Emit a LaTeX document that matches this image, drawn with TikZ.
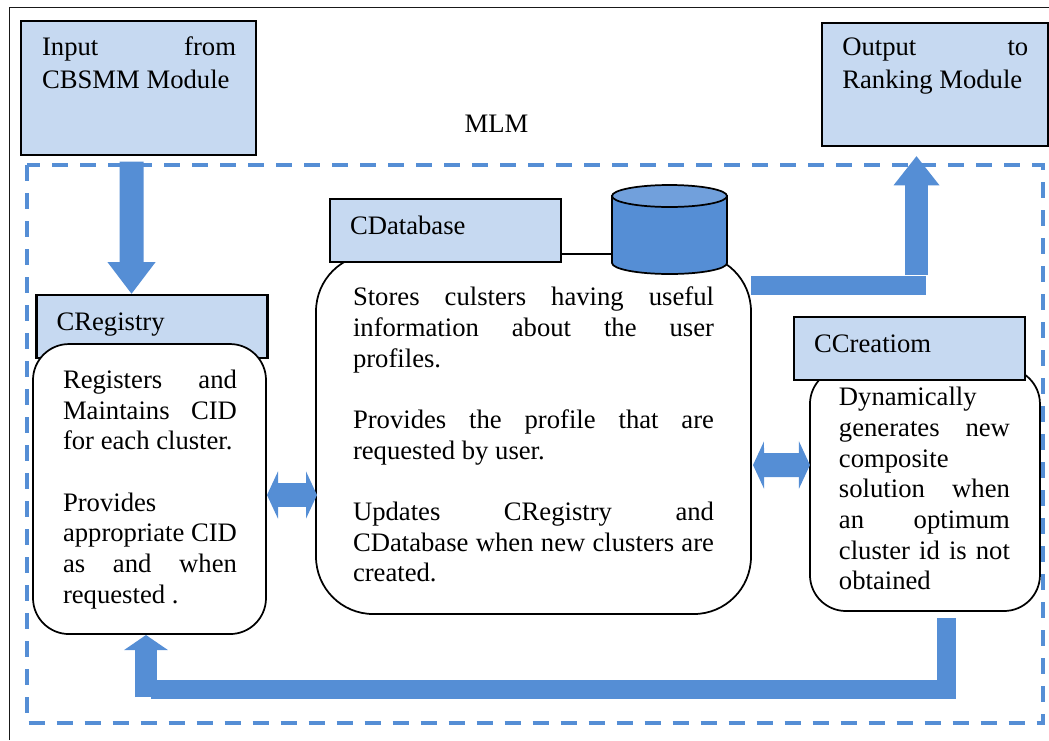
\documentclass[tikz,border=0pt]{standalone}
\usepackage{fontspec}
\setmainfont{Liberation Serif}
\usetikzlibrary{arrows.meta}
\definecolor{boxblue}{HTML}{C6D9F1}
\definecolor{flowblue}{HTML}{558ED5}
\definecolor{capblue}{HTML}{71A0DC}
\newcommand{\jl}[1]{\makebox[\hsize][s]{#1}}
\begin{document}
\begin{tikzpicture}[
  x=0.75pt, y=-0.75pt,
  every node/.style={font=\fontsize{20}{23}\selectfont, outer sep=0pt},
  head/.style={rectangle, draw=black, fill=boxblue, line width=1.6pt, minimum width=173.25pt, minimum height=47.25pt, inner xsep=15pt, text width=143.25pt, text height=13pt, text depth=7pt, align=flush left},
  port/.style={rectangle, draw=black, fill=boxblue, line width=1.6pt},
  card/.style={rectangle, rounded corners=27pt, draw=black, fill=white, line width=1.3pt},
  body/.style={anchor=north west, inner sep=0pt, align=flush left, execute at begin node=\strut},
  flow/.style={draw=flowblue, line width=#1},
  flow/.default=14.25pt,
  node distance=100pt
]
\useasboundingbox (0,0) rectangle (1049,740);

% Frames
\draw[line width=1.2pt, draw=black!90] (9.5,740) -- (9.5,7.5) -- (1049,7.5);
\draw[draw=flowblue, line width=3pt, dash pattern=on 12pt off 9pt] (26.5,165) rectangle (1043,723);
\node (title) at (496.5,124) {MLM};

% Ports
\node[port, minimum width=176pt, minimum height=100.5pt] (input) at (138.7,87.7) {};
\node[port, right of=input, node distance=597pt, yshift=2.4pt, minimum width=169.5pt, minimum height=92.25pt] (output) {};

% Modules
\node[head, below of=input, node distance=179.1pt, xshift=10pt] (reghead) {CRegistry};
\node[card, below of=reghead, node distance=121.9pt, xshift=-1.9pt, minimum width=174.75pt, minimum height=217.5pt] (regcard) {};
\node[card, right of=regcard, node distance=288pt, yshift=41.25pt, rounded corners=43pt, minimum width=326.25pt, minimum height=270pt] (dbcard) {};
\node[head, above of=dbcard, node distance=152.6pt, xshift=-66pt] (dbhead) {CDatabase};
\node[card, right of=dbcard, node distance=293.6pt, yshift=-41.6pt, minimum width=172.5pt, minimum height=182.25pt] (crcard) {};
\node[head, above of=crcard, node distance=105.75pt, xshift=-11.5pt] (crhead) {CCreatiom};

% Store
\coordinate (store) at (669.5,196);
\filldraw[draw=black, fill=flowblue, line width=1.3pt] ([xshift=-43.1pt]store) -- ++(0,67) arc[start angle=180, end angle=0, x radius=57.5, y radius=11] -- ++(0,-67) -- cycle;
\filldraw[draw=black, fill=capblue, line width=1.3pt] (store) ellipse[x radius=57.5, y radius=11];

% Texts
\node[body, font=\fontsize{20}{24.75}\selectfont, text width=145.5pt] (inputtext) at ([shift={(20.7,11.2)}]input.north west) {\jl{Input from}\\CBSMM Module};
\node[body, font=\fontsize{20}{24.75}\selectfont, text width=139.5pt] (outputtext) at ([shift={(20.6,8.9)}]output.north west) {\jl{Output to}\\Ranking Module};
\node[body, text width=130.5pt] (regtext) at ([shift={(30,22.9)}]regcard.north west) {\jl{Registers and}\\\jl{Maintains CID}\\for each cluster.\\[23pt]Provides\\\jl{appropriate CID}\\\jl{as and when}\\requested .};
\node[body, text width=270.75pt] (dbtext) at ([shift={(37,30.2)}]dbcard.north west) {\jl{Stores culsters having useful}\\\jl{information about the user}\\profiles.\\[23pt]\jl{Provides the profile that are}\\requested by user.\\[23pt]\jl{Updates CRegistry and}\\\jl{CDatabase when new clusters are}\\created.};
\node[body, text width=128.25pt] (crtext) at ([shift={(29,16.3)}]crcard.north west) {Dynamically\\\jl{generates new}\\composite\\\jl{solution when}\\\jl{an optimum}\\\jl{cluster id is not}\\obtained};

% Free ends of the bars
\coordinate (outstart) at (751,285.5);
\coordinate (outend) at (926,285.5);
\coordinate (outfoot) at (916.5,275);
\coordinate (outtip) at (916.5,156);
\coordinate (backstart) at (946.5,618);
\coordinate (backturn) at (946.5,689.5);
\coordinate (backend) at (151,689.5);
\coordinate (backfoot) at (146,697);
\coordinate (backtip) at (146,635);

% Arrows
\draw[flow=18pt, -{Triangle[width=34.5pt,length=24pt]}] ([shift={(-7.2,7)}]input.south) -- ([shift={(-20.5,-1)}]reghead.north);
\draw[flow] (outstart) -- (outend);
\draw[flow=17.25pt, -{Triangle[width=33pt,length=22pt]}] (outfoot) -- (outtip);
\draw[flow, miter limit=10] (backstart) -- (backturn) -- (backend);
\draw[flow=16.5pt, -{Triangle[width=32.25pt,length=11.25pt]}] (backfoot) -- (backtip);
\draw[flow=18pt, {Triangle[width=35.25pt,length=8.25pt]}-{Triangle[width=35.25pt,length=8.25pt]}] ([shift={(1,6)}]regcard.east) -- ([shift={(1,61)}]dbcard.west);
\draw[flow=18pt, {Triangle[width=35.25pt,length=8.25pt]}-{Triangle[width=35.25pt,length=8.25pt]}] ([shift={(2,31)}]dbcard.east) -- ([shift={(0,-24.5)}]crcard.west);
\end{tikzpicture}
\end{document}
